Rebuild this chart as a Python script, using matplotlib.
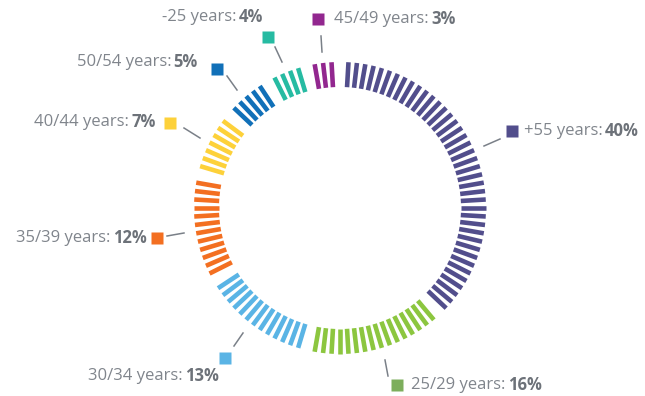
import numpy as np
import matplotlib
matplotlib.use("Agg")
import matplotlib.pyplot as plt

# age groups, clockwise from the top of the ring
groups = ["+55", "25/29", "30/34", "35/39", "40/44", "50/54", "-25", "45/49"]
shares = [40, 16, 13, 12, 7, 5, 4, 3]
bar_colors = ["#524e8c", "#8cc63f", "#5ab4e5", "#f36f21", "#fdd13a", "#1170b8", "#26bba2", "#92278f"]
box_colors = ["#524e8c", "#7dae5c", "#5ab4e5", "#f36f21", "#fdd13a", "#1170b8", "#26bba2", "#92278f"]

# label layout: leader line (x0, y0, x1, y1), square (x, y), text anchor (x, y, side)
layout = {
    "+55":   ((484, 146, 500, 139), (512, 131), (524, 131, "left")),
    "25/29": ((385, 360, 388, 376), (397, 385), (411, 385, "left")),
    "30/34": ((234, 346, 243, 333), (225, 358), (219, 376, "right")),
    "35/39": ((167, 236, 184, 233), (157, 238), (147, 238, "right")),
    "40/44": ((184, 128, 200, 138), (170, 123), (156, 122, "right")),
    "50/54": ((227, 76, 237, 90), (217, 69), (198, 62, "right")),
    "-25":   ((275, 47, 282, 62), (268, 37), (263, 17, "right")),
    "45/49": ((321, 36, 322, 52), (318, 19), (334, 19, "left")),
}

cx, cy = 340, 208
r_in, r_out = 121, 146
text_gray = "#80858c"
line_gray = "#7a8088"

fig = plt.figure(figsize=(6.45, 3.96), dpi=100)
ax = fig.add_axes([0, 0, 1, 1])
ax.set_xlim(0, 645)
ax.set_ylim(396, 0)
ax.axis("off")

# one dash per percent, one empty slot before each group
n_slots = sum(shares) + len(shares)
step = 2 * np.pi / n_slots
slot = 1
for share, col in zip(shares, bar_colors):
    for k in range(share):
        a = (slot + k) * step
        dx, dy = np.sin(a), -np.cos(a)
        ax.plot([cx + r_in * dx, cx + r_out * dx], [cy + r_in * dy, cy + r_out * dy],
                color=col, lw=3.3, solid_capstyle="butt")
    slot += share + 1

fig.canvas.draw()
renderer = fig.canvas.get_renderer()
font = dict(family="Open Sans", fontsize=12, va="center")

for g, share, col in zip(groups, shares, box_colors):
    (x0, y0, x1, y1), (sx, sy), (tx, ty, side) = layout[g]
    ax.plot([x0, x1], [y0, y1], color=line_gray, lw=1.1)
    ax.plot(sx, sy, marker="s", ms=9, color=col, mec="none")
    plain = g + " years: "
    bold = f"{share}%"
    if side == "left":
        t = ax.text(tx, ty, plain, color=text_gray, ha="left", **font)
        w = t.get_window_extent(renderer).width
        ax.text(tx + w - 2, ty, bold, color="#6d7279", ha="left", fontweight="bold", **font)
    else:
        t = ax.text(tx, ty, bold, color="#6d7279", ha="right", fontweight="bold", **font)
        w = t.get_window_extent(renderer).width
        ax.text(tx - w + 2, ty, plain, color=text_gray, ha="right", **font)

fig.savefig("out.png", dpi=100)
